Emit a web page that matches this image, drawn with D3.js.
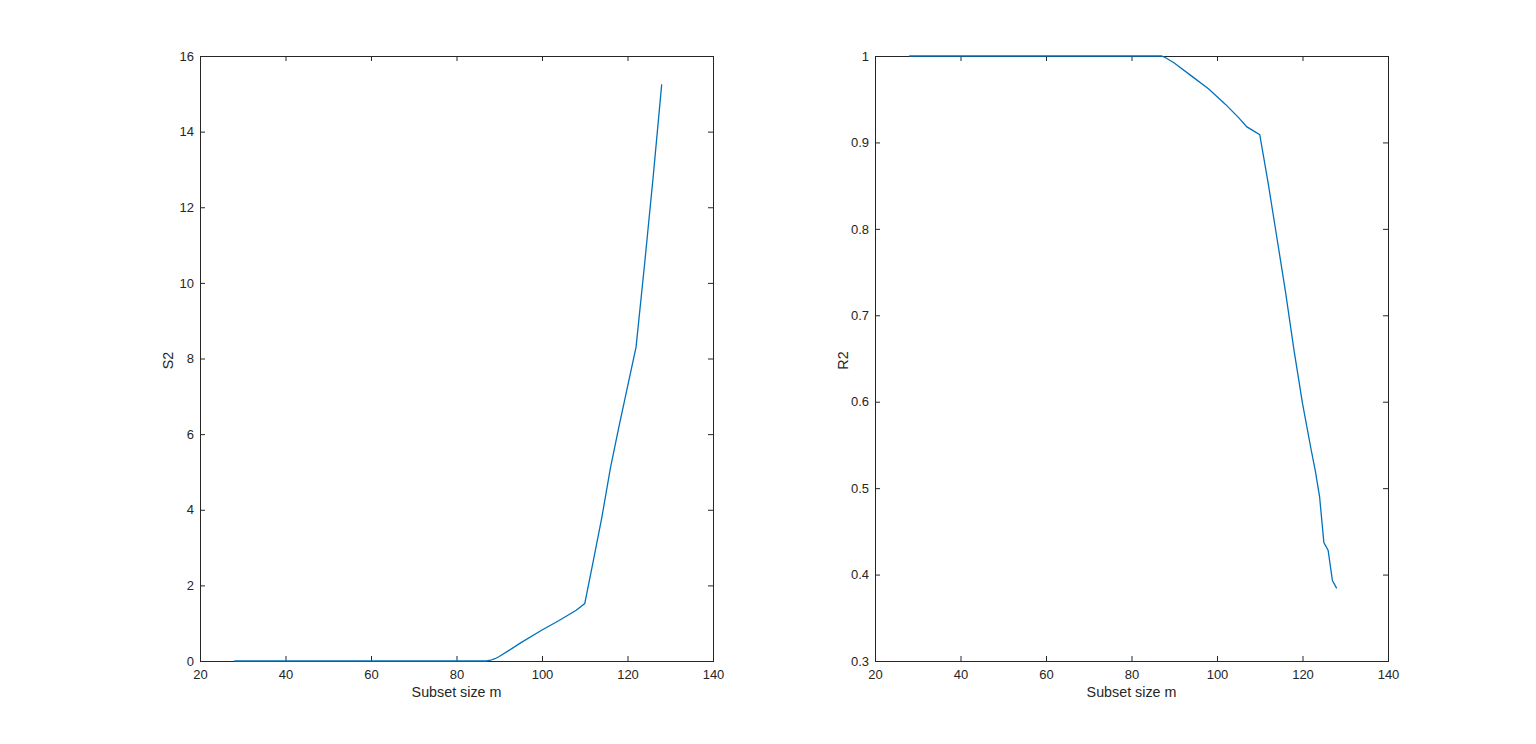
<!DOCTYPE html>
<html>
<head>
<meta charset="utf-8">
<script src="https://cdn.jsdelivr.net/npm/d3@7"></script>
<style>
  body { margin: 0; background: #fff; }
  text { font-family: "Liberation Sans", Arial, Helvetica, sans-serif; fill: #262626; }
</style>
</head>
<body>
<script>
// left panel: S2 against subset size
var mS2 = [28, 60, 87, 88, 89, 90, 92, 95, 100, 104, 108, 110, 112, 114, 116, 118, 120, 122, 124, 126, 128];
var s2  = [0, 0, 0, 0.02, 0.06, 0.12, 0.26, 0.48, 0.82, 1.07, 1.34, 1.52, 2.65, 3.8, 5.1, 6.2, 7.25, 8.3, 10.5, 12.8, 15.25];

// right panel: R2 against subset size
var mR2 = [28, 60, 87, 88, 90, 94, 98, 102, 105, 107, 110, 112, 114, 116, 118, 120, 122, 123, 124, 125, 126, 127, 128];
var r2  = [1, 1, 1, 0.998, 0.992, 0.977, 0.962, 0.944, 0.929, 0.918, 0.909, 0.852, 0.79, 0.728, 0.66, 0.598, 0.545, 0.52, 0.49, 0.437, 0.428, 0.393, 0.384];

var xTicks = [20, 40, 60, 80, 100, 120, 140];
var s2Ticks = [0, 2, 4, 6, 8, 10, 12, 14, 16];
var r2Ticks = [0.3, 0.4, 0.5, 0.6, 0.7, 0.8, 0.9, 1];

var width = 1536,
    height = 744,
    plotW = 513,
    plotH = 605;

var svg = d3.select("body")
            .append("svg")
            .attr("width", width)
            .attr("height", height);

function drawPanel(left, top, xs, ys, yTicks, yDomain, yLabel) {
    var g = svg.append("g")
               .attr("transform", "translate(" + left + "," + top + ")");

    var xScale = d3.scaleLinear().domain([20, 140]).range([0, plotW]);
    var yScale = d3.scaleLinear().domain(yDomain).range([plotH, 0]);

    var ax = g.append("g")
              .attr("transform", "translate(0," + plotH + ")")
              .call(d3.axisBottom(xScale).tickValues(xTicks).tickSizeInner(-5).tickSizeOuter(0).tickPadding(9));
    var ay = g.append("g")
              .call(d3.axisLeft(yScale).tickValues(yTicks).tickFormat(function (d) { return d; })
                      .tickSizeInner(-5).tickSizeOuter(0).tickPadding(6));
    var at = g.append("g")
              .call(d3.axisTop(xScale).tickValues(xTicks).tickFormat("").tickSizeInner(-5).tickSizeOuter(0));
    var ar = g.append("g")
              .attr("transform", "translate(" + plotW + ",0)")
              .call(d3.axisRight(yScale).tickValues(yTicks).tickFormat("").tickSizeInner(-5).tickSizeOuter(0));

    [ax, ay, at, ar].forEach(function (a) {
        a.select(".domain").remove();
        a.selectAll("line").attr("stroke", "#262626");
        a.selectAll("text").style("font-size", "13px").attr("fill", "#262626");
    });

    g.append("rect")
     .attr("x", 0.5)
     .attr("y", 0.5)
     .attr("width", plotW)
     .attr("height", plotH)
     .attr("fill", "none")
     .attr("stroke", "#262626")
     .attr("stroke-width", 1);

    var data = xs.map(function (m, i) { return { m: m, v: ys[i] }; });

    g.append("path")
     .datum(data)
     .attr("fill", "none")
     .attr("stroke", "#0072BD")
     .attr("stroke-width", 1.3)
     .attr("d", d3.line()
                  .x(function (d) { return xScale(d.m); })
                  .y(function (d) { return yScale(d.v); }));

    g.append("text")
     .attr("x", plotW / 2)
     .attr("y", plotH + 36)
     .attr("text-anchor", "middle")
     .style("font-size", "14.3px")
     .text("Subset size m");

    g.append("text")
     .attr("transform", "translate(" + yLabel.dx + "," + (plotH / 2 + 2) + ") rotate(-90)")
     .attr("text-anchor", "middle")
     .style("font-size", "14.3px")
     .text(yLabel.text);
}

drawPanel(200, 56, mS2, s2, s2Ticks, [0, 16], { text: "S2", dx: -27 });
drawPanel(875, 56, mR2, r2, r2Ticks, [0.3, 1], { text: "R2", dx: -27 });
</script>
</body>
</html>
